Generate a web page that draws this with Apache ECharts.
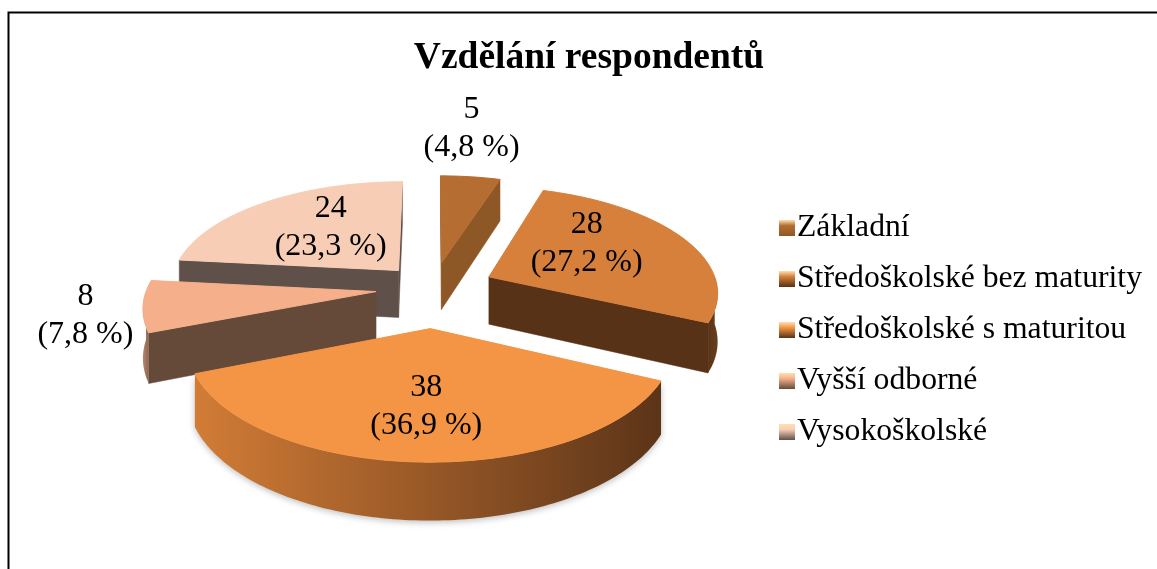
<!DOCTYPE html>
<html><head><meta charset="utf-8">
<style>html,body{margin:0;padding:0;background:#fff}#c{width:1157px;height:569px}</style>
<script src="https://cdn.jsdelivr.net/npm/echarts@6/dist/echarts.min.js"></script>
</head><body><div id="c"></div>
<script>
const titleText = 'Vzdělání respondentů';
const categories = ['Základní','Středoškolské bez maturity','Středoškolské s maturitou','Vyšší odborné','Vysokoškolské'];
const values = [5,28,38,8,24];
const percentLabels = ['4,8 %','27,2 %','36,9 %','7,8 %','23,3 %'];
const topColors = ['#B56D31','#D6803B','#F39545','#F5B08B','#F7CDB6'];
const edgeColors = ['#8E5726','#573217','#573217','#664A39','#60504A'];
const wallLeft = ['#A9652D','#5A3418','#D27C36','#B98468','#A98C7D'];
const wallRight = ['#7C4A20','#6A3E1C','#5C3418','#8A6650','#60504A'];
// layout
const CX=433, CY=288, RX=229, RY=104.5, K=0.13, DEPTH=48;
const explode=[0.25,0.27,0.37,0.25,0.23];
const labelRho=[1.76,0.6,0.6,1.25,0.5];
const labelShift=[[-17,5.5],[-21,-10],[1,3],[2,6],[2,-7]];
const zOf=[2,4,5,3,1];
const total=values.reduce((a,b)=>a+b,0);
const startAngles=[];let acc=0;values.forEach(v=>{startAngles.push(acc);acc+=v/total*2*Math.PI;});
function project(X,Y,down){const w=1-K*Y;return [CX+RX*X/w,CY+RY*Y/w+(down?DEPTH/w:0)];}
function geometry(i){
  const a0=startAngles[i],a1=a0+values[i]/total*2*Math.PI,m=(a0+a1)/2;
  const ox=explode[i]*Math.sin(m),oy=-explode[i]*Math.cos(m);
  const rim=(a,d)=>project(ox+Math.sin(a),oy-Math.cos(a),d);
  return {a0,a1,m,ox,oy,rim,apex:d=>project(ox,oy,d)};
}
function arcPts(g,from,to,d){const n=Math.max(2,Math.ceil((to-from)/0.02));const p=[];for(let j=0;j<=n;j++)p.push(g.rim(from+(to-from)*j/n,d));return p;}
function radialVisible(g,a){
  const A=g.apex(false),E=g.rim(a,false),M=g.rim(g.m,false);
  const cx=(E[0]-A[0])*(M[1]-A[1])-(E[1]-A[1])*(M[0]-A[0]);
  const dn=(E[0]-A[0]);
  return cx*dn<0;
}
function renderSlice(i){
  const g=geometry(i),kids=[];
  [g.a0,g.a1].forEach(a=>{
    if(!radialVisible(g,a))return;
    kids.push({type:'polygon',shape:{points:[g.apex(false),g.rim(a,false),g.rim(a,true),g.apex(true)]},
      style:{fill:edgeColors[i],stroke:edgeColors[i],lineWidth:.5}});
  });
  const f=Math.max(g.a0,Math.PI/2),t=Math.min(g.a1,Math.PI*1.5);
  if(t>f){
    const top=arcPts(g,f,t,false),bot=arcPts(g,f,t,true);
    kids.push({type:'polygon',shape:{points:top.concat(bot.reverse())},
      style:{fill:new echarts.graphic.LinearGradient(1,0,0,0,[{offset:0,color:wallRight[i]},{offset:1,color:wallLeft[i]}]),
        shadowBlur:i==2?6:0,shadowColor:'rgba(0,0,0,.25)',shadowOffsetY:i==2?2:0}});
  }
  const pts=[g.apex(false)].concat(arcPts(g,g.a0,g.a1,false));
  kids.push({type:'polygon',shape:{points:pts},style:{fill:topColors[i],stroke:topColors[i],lineWidth:1}});
  const lr=labelRho[i];
  const lp=project(g.ox+lr*Math.sin(g.m),g.oy-lr*Math.cos(g.m),false);
  kids.push({type:'text',z2:10,style:{text:values[i]+'\n('+percentLabels[i]+')',x:lp[0]+labelShift[i][0],y:lp[1]+labelShift[i][1],
    align:'center',verticalAlign:'middle',font:'32px "Liberation Serif"',lineHeight:38,fill:'#000'}});
  return {type:'group',children:kids};
}
const chart=echarts.init(document.getElementById('c'),null,{renderer:'canvas'});
chart.setOption({
  animation:false,backgroundColor:'#fff',
  title:{text:titleText,left:584,top:34,textAlign:'center',textStyle:{fontFamily:'Liberation Serif',fontWeight:'bold',fontSize:37.5,color:'#000'}},
  legend:{orient:'vertical',left:774,top:207,itemWidth:16,itemHeight:16,itemGap:19,selectedMode:false,icon:'rect',
    textStyle:{fontFamily:'Liberation Serif',fontSize:31.7,color:'#000',padding:[0,0,0,-3]},
    data:categories.map((n,i)=>({name:n,itemStyle:{color:new echarts.graphic.LinearGradient(0,0,0,1,[{offset:0,color:'#FFE0B0'},{offset:.35,color:topColors[i]},{offset:1,color:edgeColors[i]}])}}))},
  graphic:[{type:'rect',silent:true,shape:{x:8.5,y:12.5,width:1160,height:600},style:{fill:'none',stroke:'#000',lineWidth:2}}],
  series:categories.map((n,i)=>({type:'custom',name:n,coordinateSystem:'none',z:zOf[i]+1,
    data:[values[i]],renderItem:()=>renderSlice(i),itemStyle:{color:topColors[i]}}))
});
</script></body></html>
